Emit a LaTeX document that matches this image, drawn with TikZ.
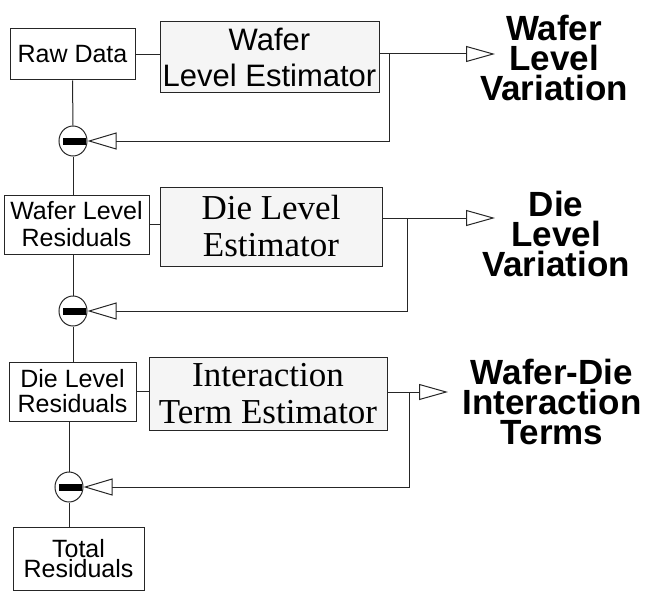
\documentclass[tikz,border=0pt]{standalone}
\usepackage{fontspec}
\setmainfont{Liberation Serif}
\setsansfont{Liberation Sans}
\usetikzlibrary{arrows.meta, calc, positioning, shapes.geometric}

\begin{document}
\begin{tikzpicture}[x=1pt, y=-1pt,
    wire/.style={draw=black!85, line width=1pt},
    datbox/.style={wire, inner sep=0pt, align=center, font=\sffamily\fontsize{25}{27}\selectfont},
    estbox/.style={wire, fill=black!4, inner sep=0pt, align=center},
    subnode/.style={wire, fill=white, ellipse, inner sep=0pt, minimum width=28pt, minimum height=30pt},
    outarr/.style={wire, -{Triangle[open, length=29pt, width=16pt]}},
    fbarr/.style={wire, -{Triangle[open, length=29pt, width=17pt]}},
    outlbl/.style={inner sep=0pt, align=center, font=\sffamily\bfseries\fontsize{35}{30}\selectfont}]
	\useasboundingbox (0,0) rectangle (652,591);
	% data boxes on the left
	\node[datbox, minimum width=125pt, minimum height=51pt] (raw) at (72.5,54.5) {Raw Data};
	\node[datbox, minimum width=145pt, minimum height=59pt] (wres) at (76.5,224.5) {Wafer Level\\Residuals};
	\node[datbox, minimum width=127pt, minimum height=59pt, font=\sffamily\fontsize{25}{25}\selectfont] (dres) at (72.5,391.5) {Die Level\\Residuals};
	\node[datbox, minimum width=131pt, minimum height=63pt, font=\sffamily\fontsize{25}{18}\selectfont] (tres) at (78.5,558.5) {Total\\Residuals};
	% estimators
	\node[estbox, minimum width=219pt, minimum height=71pt, font=\sffamily\fontsize{31}{36}\selectfont] (west) at (269.5,57.5) {Wafer\\Level Estimator};
	\node[estbox, minimum width=222pt, minimum height=79pt, font=\fontsize{35}{37}\selectfont] (dest) at (271,226.5) {Die Level\\Estimator};
	\node[estbox, minimum width=238pt, minimum height=73pt, font=\fontsize{35}{37}\selectfont] (iest) at (268,393.5) {Interaction\\Term Estimator};
	% subtractors
	\node[subnode] (s1) at (73,141) {};
	\node[subnode] (s2) at (73,311) {};
	\node[subnode] (s3) at (69,487) {};
	\foreach \s in {s1,s2,s3} {
		\fill ($(\s.center)+(-10,-3.5)$) rectangle ($(\s.center)+(13,3.5)$);
	}
	% outputs
	\node[outlbl] (wlv) at (554,57.5) {Wafer\\Level\\Variation};
	\node[outlbl] (dlv) at (556,234) {Die\\Level\\Variation};
	\node[outlbl] (wdi) at (552,401.5) {Wafer-Die\\Interaction\\Terms};
	\coordinate (o1) at (495,54);  \coordinate (b1) at (389,54);
	\coordinate (o2) at (495,218); \coordinate (b2) at (407,218);
	\coordinate (o3) at (448,392); \coordinate (b3) at (409,392);
	% chain
	\draw[wire] (raw.south) -- (s1.north);
	\draw[wire] (s1.south) -- (s1.south |- wres.north);
	\draw[wire] (wres.south -| s2) -- (s2.north);
	\draw[wire] (s2.south) -- (s2.south |- dres.north);
	\draw[wire] (dres.south -| s3) -- (s3.north);
	\draw[wire] (s3.south) -- (s3.south |- tres.north);
	\draw[wire] (raw.east) -- (raw.east -| west.west);
	\draw[wire] (wres.east) -- (wres.east -| dest.west);
	\draw[wire] (dres.east) -- (dres.east -| iest.west);
	% estimates out and fed back
	\draw[outarr] (west.east |- o1) -- (o1);
	\draw[outarr] (dest.east |- o2) -- (o2);
	\draw[outarr] (iest.east |- o3) -- (o3);
	\draw[fbarr] (b1) |- (s1.east);
	\draw[fbarr] (b2) |- (s2.east);
	\draw[fbarr] (b3) |- (s3.east);
\end{tikzpicture}
\end{document}
